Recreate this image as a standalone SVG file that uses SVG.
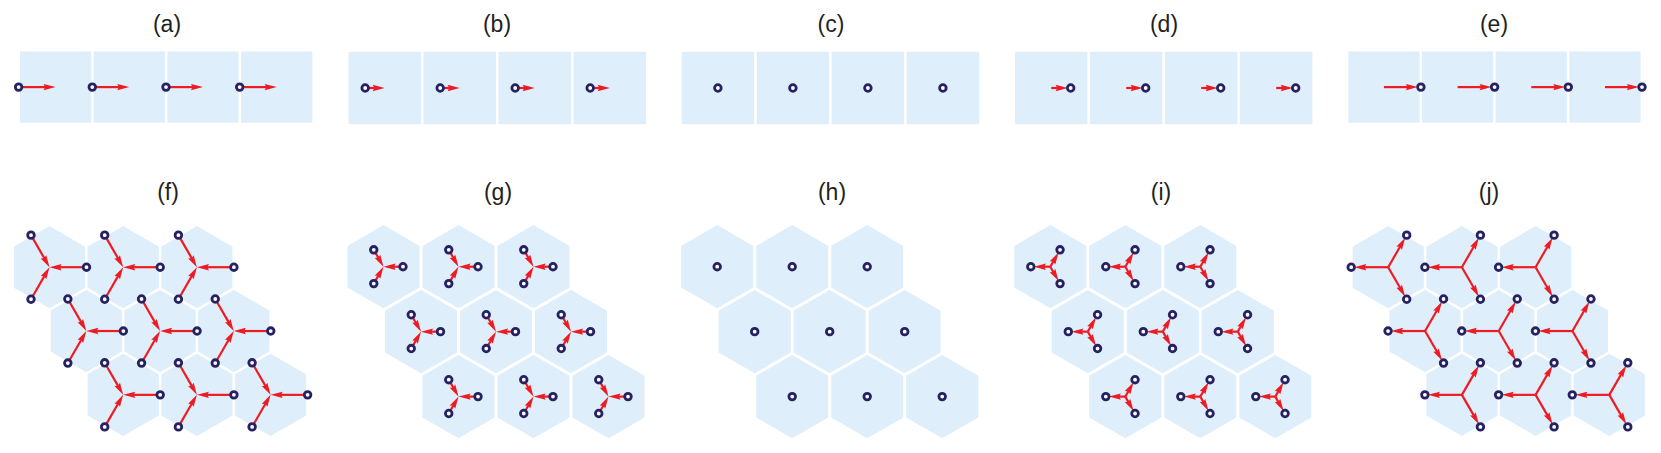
<svg xmlns="http://www.w3.org/2000/svg" width="1661" height="453" viewBox="0 0 1661 453">
<style>
.cell{fill:#DEEEFA}
.lab{font-family:"Liberation Sans",Arial,sans-serif;font-size:23px;fill:#231F20;text-anchor:middle}
.ln{stroke:#ED1C24;stroke-width:2.2;fill:none}
.hd{fill:#ED1C24;stroke:none}
.pt{fill:#FFFFFF;stroke:#262262;stroke-width:2.8}
</style>
<defs>
<path id="hexF" d="M0,-41.1 L35.59,-20.55 L35.59,20.55 L0,41.1 L-35.59,20.55 L-35.59,-20.55Z"/>
<path id="hexG" d="M0,-41.6 L36.03,-20.8 L36.03,20.8 L0,41.6 L-36.03,20.8 L-36.03,-20.8Z"/>
<g id="inL"><path class="ln" d="M-37,0 H-6"/><path class="hd" d="M0,0 L-12,-3.2 L-10.5,0 L-12,3.2Z"/></g>
<g id="inS"><path class="ln" d="M-19.5,0 H-6"/><path class="hd" d="M0,0 L-12,-3.2 L-10.5,0 L-12,3.2Z"/></g>
<g id="outL"><path class="ln" d="M0,0 H28"/><path class="hd" d="M34,0 L22,-3.2 L23.5,0 L22,3.2Z"/></g>
<g id="outS"><path class="ln" d="M0,0 H10.5"/><path class="hd" d="M16.5,0 L4.5,-3.2 L6,0 L4.5,3.2Z"/></g>
<g id="fA"><use href="#inL" transform="rotate(180)"/><use href="#inL" transform="rotate(60)"/><use href="#inL" transform="rotate(-60)"/></g>
<g id="gA"><use href="#inS" transform="rotate(180)"/><use href="#inS" transform="rotate(60)"/><use href="#inS" transform="rotate(-60)"/></g>
<g id="iA"><use href="#outS" transform="rotate(180)"/><use href="#outS" transform="rotate(60)"/><use href="#outS" transform="rotate(-60)"/></g>
<g id="jA"><use href="#outL" transform="rotate(180)"/><use href="#outL" transform="rotate(60)"/><use href="#outL" transform="rotate(-60)"/></g>
<g id="fC"><circle class="pt" cx="37" cy="0" r="3.3"/><circle class="pt" cx="-18.5" cy="-32.04" r="3.3"/><circle class="pt" cx="-18.5" cy="32.04" r="3.3"/></g>
<g id="gC"><circle class="pt" cx="19.5" cy="0" r="3.3"/><circle class="pt" cx="-9.75" cy="-16.89" r="3.3"/><circle class="pt" cx="-9.75" cy="16.89" r="3.3"/></g>
<g id="iC"><circle class="pt" cx="-19.5" cy="0" r="3.3"/><circle class="pt" cx="9.75" cy="-16.89" r="3.3"/><circle class="pt" cx="9.75" cy="16.89" r="3.3"/></g>
<g id="jC"><circle class="pt" cx="-37" cy="0" r="3.3"/><circle class="pt" cx="18.5" cy="-32.04" r="3.3"/><circle class="pt" cx="18.5" cy="32.04" r="3.3"/></g>
</defs>

<g id="labels">
<text class="lab" x="167" y="32">(a)</text>
<text class="lab" x="497" y="32">(b)</text>
<text class="lab" x="831" y="32">(c)</text>
<text class="lab" x="1164" y="32">(d)</text>
<text class="lab" x="1494" y="32">(e)</text>
<text class="lab" x="168" y="200">(f)</text>
<text class="lab" x="498" y="200">(g)</text>
<text class="lab" x="832" y="200">(h)</text>
<text class="lab" x="1161" y="200">(i)</text>
<text class="lab" x="1489" y="200">(j)</text>
</g>

<g id="panel-a">
<g class="cell"><rect x="20" y="51.5" width="71.2" height="71.2"/><rect x="93.7" y="51.5" width="71.2" height="71.2"/><rect x="167.4" y="51.5" width="71.2" height="71.2"/><rect x="241.1" y="51.5" width="71.2" height="71.2"/></g>
<g id="connectors-a"><use href="#inL" x="55.6" y="87.1"/><use href="#inL" x="129.3" y="87.1"/><use href="#inL" x="203" y="87.1"/><use href="#inL" x="276.7" y="87.1"/></g>
<g><circle class="pt" cx="18.6" cy="87.1" r="3.3"/><circle class="pt" cx="92.3" cy="87.1" r="3.3"/><circle class="pt" cx="166" cy="87.1" r="3.3"/><circle class="pt" cx="239.7" cy="87.1" r="3.3"/></g>
</g>

<g id="panel-b">
<g class="cell"><rect x="348.5" y="51.8" width="72.4" height="72.4"/><rect x="423.5" y="51.8" width="72.4" height="72.4"/><rect x="498.5" y="51.8" width="72.4" height="72.4"/><rect x="573.5" y="51.8" width="72.4" height="72.4"/></g>
<g id="connectors-b"><use href="#inS" x="384.7" y="88"/><use href="#inS" x="459.7" y="88"/><use href="#inS" x="534.7" y="88"/><use href="#inS" x="609.7" y="88"/></g>
<g><circle class="pt" cx="365.2" cy="88" r="3.3"/><circle class="pt" cx="440.2" cy="88" r="3.3"/><circle class="pt" cx="515.2" cy="88" r="3.3"/><circle class="pt" cx="590.2" cy="88" r="3.3"/></g>
</g>

<g id="panel-c">
<g class="cell"><rect x="681.7" y="51.8" width="72.4" height="72.4"/><rect x="756.7" y="51.8" width="72.4" height="72.4"/><rect x="831.7" y="51.8" width="72.4" height="72.4"/><rect x="906.7" y="51.8" width="72.4" height="72.4"/></g>
<g><circle class="pt" cx="717.9" cy="88" r="3.3"/><circle class="pt" cx="792.9" cy="88" r="3.3"/><circle class="pt" cx="867.9" cy="88" r="3.3"/><circle class="pt" cx="942.9" cy="88" r="3.3"/></g>
</g>

<g id="panel-d">
<g class="cell"><rect x="1015" y="51.8" width="72.4" height="72.4"/><rect x="1090" y="51.8" width="72.4" height="72.4"/><rect x="1165" y="51.8" width="72.4" height="72.4"/><rect x="1240" y="51.8" width="72.4" height="72.4"/></g>
<g id="connectors-d"><use href="#outS" x="1051.2" y="88"/><use href="#outS" x="1126.2" y="88"/><use href="#outS" x="1201.2" y="88"/><use href="#outS" x="1276.2" y="88"/></g>
<g><circle class="pt" cx="1070.7" cy="88" r="3.3"/><circle class="pt" cx="1145.7" cy="88" r="3.3"/><circle class="pt" cx="1220.7" cy="88" r="3.3"/><circle class="pt" cx="1295.7" cy="88" r="3.3"/></g>
</g>

<g id="panel-e">
<g class="cell"><rect x="1348.3" y="51.5" width="71.2" height="71.2"/><rect x="1422" y="51.5" width="71.2" height="71.2"/><rect x="1495.7" y="51.5" width="71.2" height="71.2"/><rect x="1569.4" y="51.5" width="71.2" height="71.2"/></g>
<g id="connectors-e"><use href="#outL" x="1383.9" y="87.1"/><use href="#outL" x="1457.6" y="87.1"/><use href="#outL" x="1531.3" y="87.1"/><use href="#outL" x="1605" y="87.1"/></g>
<g><circle class="pt" cx="1420.9" cy="87.1" r="3.3"/><circle class="pt" cx="1494.6" cy="87.1" r="3.3"/><circle class="pt" cx="1568.3" cy="87.1" r="3.3"/><circle class="pt" cx="1642" cy="87.1" r="3.3"/></g>
</g>

<g id="panel-f">
<g class="cell">
<use href="#hexF" x="49.5" y="267.2"/><use href="#hexF" x="123.2" y="267.2"/><use href="#hexF" x="196.9" y="267.2"/>
<use href="#hexF" x="86.35" y="331.03"/><use href="#hexF" x="160.05" y="331.03"/><use href="#hexF" x="233.75" y="331.03"/>
<use href="#hexF" x="123.2" y="394.86"/><use href="#hexF" x="196.9" y="394.86"/><use href="#hexF" x="270.6" y="394.86"/>
</g>
<g id="connectors-f">
<use href="#fA" x="49.5" y="267.2"/><use href="#fA" x="123.2" y="267.2"/><use href="#fA" x="196.9" y="267.2"/>
<use href="#fA" x="86.35" y="331.03"/><use href="#fA" x="160.05" y="331.03"/><use href="#fA" x="233.75" y="331.03"/>
<use href="#fA" x="123.2" y="394.86"/><use href="#fA" x="196.9" y="394.86"/><use href="#fA" x="270.6" y="394.86"/>
</g>
<g>
<use href="#fC" x="49.5" y="267.2"/><use href="#fC" x="123.2" y="267.2"/><use href="#fC" x="196.9" y="267.2"/>
<use href="#fC" x="86.35" y="331.03"/><use href="#fC" x="160.05" y="331.03"/><use href="#fC" x="233.75" y="331.03"/>
<use href="#fC" x="123.2" y="394.86"/><use href="#fC" x="196.9" y="394.86"/><use href="#fC" x="270.6" y="394.86"/>
</g>
</g>

<g id="panel-g">
<g class="cell">
<use href="#hexG" x="383.5" y="266.7"/><use href="#hexG" x="458.5" y="266.7"/><use href="#hexG" x="533.5" y="266.7"/>
<use href="#hexG" x="421" y="331.65"/><use href="#hexG" x="496" y="331.65"/><use href="#hexG" x="571" y="331.65"/>
<use href="#hexG" x="458.5" y="396.6"/><use href="#hexG" x="533.5" y="396.6"/><use href="#hexG" x="608.5" y="396.6"/>
</g>
<g id="connectors-g">
<use href="#gA" x="383.5" y="266.7"/><use href="#gA" x="458.5" y="266.7"/><use href="#gA" x="533.5" y="266.7"/>
<use href="#gA" x="421" y="331.65"/><use href="#gA" x="496" y="331.65"/><use href="#gA" x="571" y="331.65"/>
<use href="#gA" x="458.5" y="396.6"/><use href="#gA" x="533.5" y="396.6"/><use href="#gA" x="608.5" y="396.6"/>
</g>
<g>
<use href="#gC" x="383.5" y="266.7"/><use href="#gC" x="458.5" y="266.7"/><use href="#gC" x="533.5" y="266.7"/>
<use href="#gC" x="421" y="331.65"/><use href="#gC" x="496" y="331.65"/><use href="#gC" x="571" y="331.65"/>
<use href="#gC" x="458.5" y="396.6"/><use href="#gC" x="533.5" y="396.6"/><use href="#gC" x="608.5" y="396.6"/>
</g>
</g>

<g id="panel-h">
<g class="cell">
<use href="#hexG" x="717.2" y="266.7"/><use href="#hexG" x="792.2" y="266.7"/><use href="#hexG" x="867.2" y="266.7"/>
<use href="#hexG" x="754.7" y="331.65"/><use href="#hexG" x="829.7" y="331.65"/><use href="#hexG" x="904.7" y="331.65"/>
<use href="#hexG" x="792.2" y="396.6"/><use href="#hexG" x="867.2" y="396.6"/><use href="#hexG" x="942.2" y="396.6"/>
</g>
<g>
<circle class="pt" cx="717.2" cy="266.7" r="3.3"/><circle class="pt" cx="792.2" cy="266.7" r="3.3"/><circle class="pt" cx="867.2" cy="266.7" r="3.3"/>
<circle class="pt" cx="754.7" cy="331.65" r="3.3"/><circle class="pt" cx="829.7" cy="331.65" r="3.3"/><circle class="pt" cx="904.7" cy="331.65" r="3.3"/>
<circle class="pt" cx="792.2" cy="396.6" r="3.3"/><circle class="pt" cx="867.2" cy="396.6" r="3.3"/><circle class="pt" cx="942.2" cy="396.6" r="3.3"/>
</g>
</g>

<g id="panel-i">
<g class="cell">
<use href="#hexG" x="1050.3" y="266.7"/><use href="#hexG" x="1125.3" y="266.7"/><use href="#hexG" x="1200.3" y="266.7"/>
<use href="#hexG" x="1087.8" y="331.65"/><use href="#hexG" x="1162.8" y="331.65"/><use href="#hexG" x="1237.8" y="331.65"/>
<use href="#hexG" x="1125.3" y="396.6"/><use href="#hexG" x="1200.3" y="396.6"/><use href="#hexG" x="1275.3" y="396.6"/>
</g>
<g id="connectors-i">
<use href="#iA" x="1050.3" y="266.7"/><use href="#iA" x="1125.3" y="266.7"/><use href="#iA" x="1200.3" y="266.7"/>
<use href="#iA" x="1087.8" y="331.65"/><use href="#iA" x="1162.8" y="331.65"/><use href="#iA" x="1237.8" y="331.65"/>
<use href="#iA" x="1125.3" y="396.6"/><use href="#iA" x="1200.3" y="396.6"/><use href="#iA" x="1275.3" y="396.6"/>
</g>
<g>
<use href="#iC" x="1050.3" y="266.7"/><use href="#iC" x="1125.3" y="266.7"/><use href="#iC" x="1200.3" y="266.7"/>
<use href="#iC" x="1087.8" y="331.65"/><use href="#iC" x="1162.8" y="331.65"/><use href="#iC" x="1237.8" y="331.65"/>
<use href="#iC" x="1125.3" y="396.6"/><use href="#iC" x="1200.3" y="396.6"/><use href="#iC" x="1275.3" y="396.6"/>
</g>
</g>

<g id="panel-j">
<g class="cell">
<use href="#hexF" x="1388.2" y="267.2"/><use href="#hexF" x="1461.9" y="267.2"/><use href="#hexF" x="1535.6" y="267.2"/>
<use href="#hexF" x="1425.05" y="331.03"/><use href="#hexF" x="1498.75" y="331.03"/><use href="#hexF" x="1572.45" y="331.03"/>
<use href="#hexF" x="1461.9" y="394.86"/><use href="#hexF" x="1535.6" y="394.86"/><use href="#hexF" x="1609.3" y="394.86"/>
</g>
<g id="connectors-j">
<use href="#jA" x="1388.2" y="267.2"/><use href="#jA" x="1461.9" y="267.2"/><use href="#jA" x="1535.6" y="267.2"/>
<use href="#jA" x="1425.05" y="331.03"/><use href="#jA" x="1498.75" y="331.03"/><use href="#jA" x="1572.45" y="331.03"/>
<use href="#jA" x="1461.9" y="394.86"/><use href="#jA" x="1535.6" y="394.86"/><use href="#jA" x="1609.3" y="394.86"/>
</g>
<g>
<use href="#jC" x="1388.2" y="267.2"/><use href="#jC" x="1461.9" y="267.2"/><use href="#jC" x="1535.6" y="267.2"/>
<use href="#jC" x="1425.05" y="331.03"/><use href="#jC" x="1498.75" y="331.03"/><use href="#jC" x="1572.45" y="331.03"/>
<use href="#jC" x="1461.9" y="394.86"/><use href="#jC" x="1535.6" y="394.86"/><use href="#jC" x="1609.3" y="394.86"/>
</g>
</g>
</svg>
